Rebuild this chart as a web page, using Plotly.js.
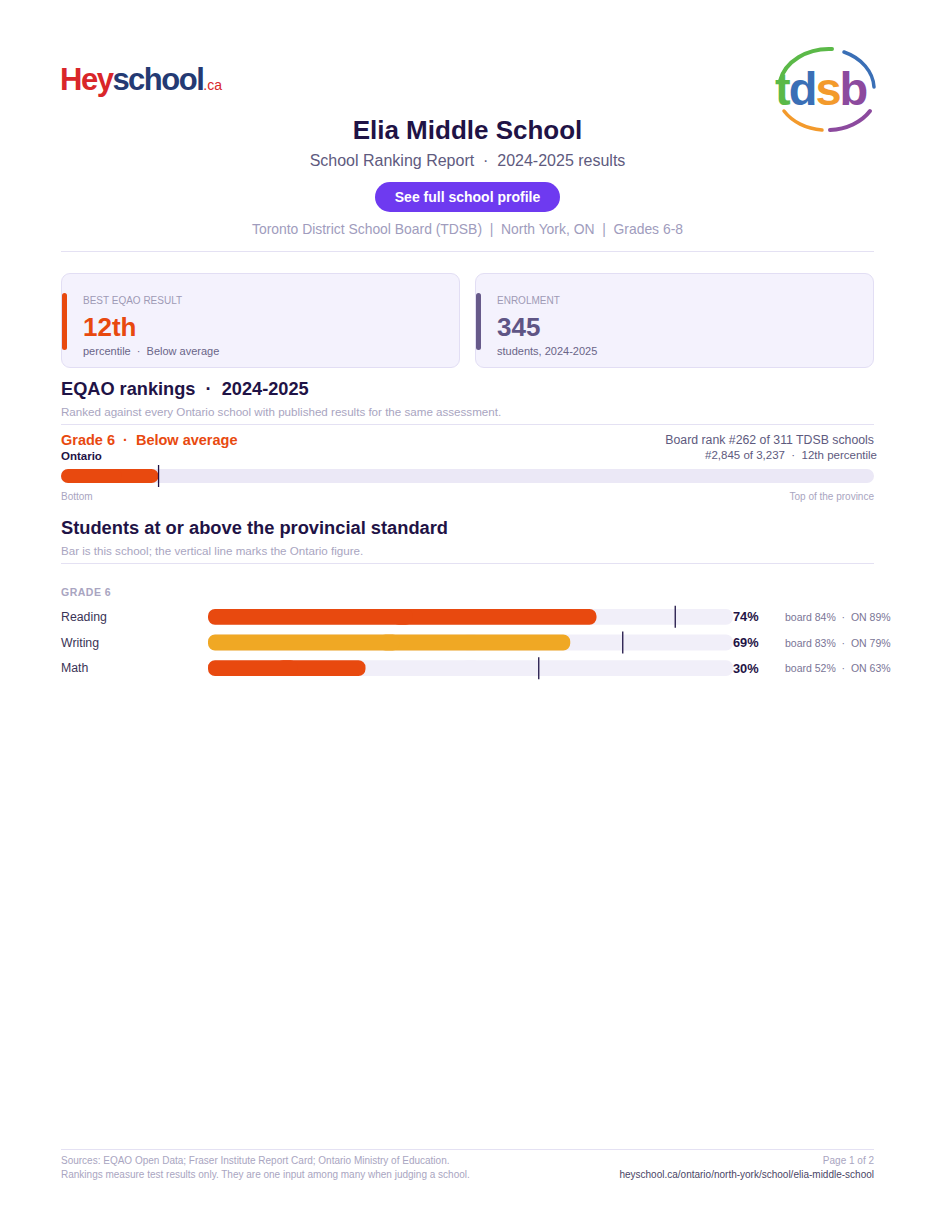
<!DOCTYPE html>
<html><head><meta charset="utf-8">
<script src="https://cdn.plot.ly/plotly-3.0.1.min.js"></script>
<style>
body{margin:0;width:935px;height:1210px;position:relative;background:#fff;font-family:"Liberation Sans",Arial,sans-serif;overflow:hidden}
.t{position:absolute;line-height:1;white-space:nowrap}
.rule{position:absolute;left:61px;width:813px;height:1px;background:#e4e1f3}
.card{position:absolute;top:273px;width:399px;height:95px;background:#f4f2fd;border:1px solid #e2def4;border-radius:9px;box-sizing:border-box}
.acc{position:absolute;left:0;top:19px;width:5px;height:57px;border-radius:3px}
</style></head><body>
<!-- HeySchool logo -->
<div class="t" style="left:60px;top:64px;font-size:31px;font-weight:bold;letter-spacing:-1.5px"><span style="color:#d9262a">Hey</span><span style="color:#243a73">school</span><span style="color:#d9262a;font-size:14px;font-weight:normal;letter-spacing:0">.ca</span></div>
<!-- TDSB logo -->
<svg style="position:absolute;left:770px;top:45px" width="110" height="90" viewBox="0 0 110 90">
<path d="M10 36 A50 40 0 0 1 62 4" stroke="#5bb948" stroke-width="4" fill="none" stroke-linecap="round"/>
<path d="M74 7 A50 40 0 0 1 104 42" stroke="#3a6fb6" stroke-width="3.5" fill="none" stroke-linecap="round"/>
<path d="M14 66 A50 40 0 0 0 52 85" stroke="#f39a2c" stroke-width="3.5" fill="none" stroke-linecap="round"/>
<path d="M60 85 A50 40 0 0 0 100 66" stroke="#8c4a9e" stroke-width="4" fill="none" stroke-linecap="round"/>
<text x="5" y="60" font-family="Liberation Sans,Arial" font-weight="bold" font-size="47" letter-spacing="-2"><tspan fill="#5bb948">t</tspan><tspan fill="#3a6fb6">d</tspan><tspan fill="#f39a2c">s</tspan><tspan fill="#8c4a9e">b</tspan></text>
</svg>

<div class="t" style="left:0;width:935px;text-align:center;top:117px;font-size:26px;font-weight:bold;color:#1f1346">Elia Middle School</div>
<div class="t" style="left:0;width:935px;text-align:center;top:153px;font-size:16px;color:#5e5a7e">School Ranking Report &nbsp;·&nbsp; 2024-2025 results</div>
<div style="position:absolute;left:375px;top:182px;width:185px;height:30px;border-radius:15px;background:#6e3af0;color:#fff;font-weight:bold;font-size:14px;line-height:30px;text-align:center">See full school profile</div>
<div class="t" style="left:0;width:935px;text-align:center;top:223px;font-size:13.9px;color:#a09cbd">Toronto District School Board (TDSB) &nbsp;| &nbsp;North York, ON &nbsp;| &nbsp;Grades 6-8</div>
<div class="rule" style="top:251px"></div>

<div class="card" style="left:61px"><div class="acc" style="background:#e8490f"></div>
<div class="t" style="left:21px;top:22px;font-size:10px;color:#9e9ab5">BEST EQAO RESULT</div>
<div class="t" style="left:21px;top:40px;font-size:26px;font-weight:bold;color:#e8490f">12th</div>
<div class="t" style="left:21px;top:72px;font-size:11px;color:#6a6588">percentile &nbsp;· &nbsp;Below average</div></div>
<div class="card" style="left:475px"><div class="acc" style="background:#675a8a"></div>
<div class="t" style="left:21px;top:22px;font-size:10px;color:#9e9ab5">ENROLMENT</div>
<div class="t" style="left:21px;top:40px;font-size:26px;font-weight:bold;color:#5f5585">345</div>
<div class="t" style="left:21px;top:72px;font-size:11px;color:#6a6588">students, 2024-2025</div></div>

<div class="t" style="left:61px;top:380px;font-size:18.2px;font-weight:bold;color:#1f1346">EQAO rankings &nbsp;· &nbsp;2024-2025</div>
<div class="t" style="left:61px;top:406px;font-size:11.6px;color:#a9a5c1">Ranked against every Ontario school with published results for the same assessment.</div>
<div class="rule" style="top:424px"></div>
<div class="t" style="left:61px;top:433px;font-size:14.5px;font-weight:bold;color:#e8490f">Grade 6 &nbsp;· &nbsp;Below average</div>
<div class="t" style="left:61px;top:451px;font-size:11.5px;font-weight:bold;color:#1f1346">Ontario</div>
<div class="t" style="right:61px;top:434px;font-size:12.3px;color:#5e5a7e">Board rank #262 of 311 TDSB schools</div>
<div class="t" style="right:58px;top:450px;font-size:11.5px;color:#5e5a7e">#2,845 of 3,237 &nbsp;· &nbsp;12th percentile</div>
<div id="rank" style="position:absolute;left:0;top:460px;width:935px;height:32px"></div>
<div class="t" style="left:61px;top:492px;font-size:10px;color:#a9a5c1">Bottom</div>
<div class="t" style="right:61px;top:492px;font-size:10px;color:#a9a5c1">Top of the province</div>

<div class="t" style="left:61px;top:519px;font-size:18.3px;font-weight:bold;color:#1f1346">Students at or above the provincial standard</div>
<div class="t" style="left:61px;top:545px;font-size:11.6px;color:#a9a5c1">Bar is this school; the vertical line marks the Ontario figure.</div>
<div class="rule" style="top:563px"></div>
<div class="t" style="left:61px;top:587px;font-size:10.5px;font-weight:bold;color:#a9a5c1;letter-spacing:0.5px">GRADE 6</div>
<div id="bars" style="position:absolute;left:0;top:600px;width:935px;height:86px"></div>

<div class="rule" style="top:1149px"></div>
<div class="t" style="left:61px;top:1156px;font-size:10px;color:#a9a5c1">Sources: EQAO Open Data; Fraser Institute Report Card; Ontario Ministry of Education.</div>
<div class="t" style="left:61px;top:1170px;font-size:10px;color:#a9a5c1">Rankings measure test results only. They are one input among many when judging a school.</div>
<div class="t" style="right:61px;top:1156px;font-size:10px;color:#a9a5c1">Page 1 of 2</div>
<div class="t" style="right:61px;top:1170px;font-size:10px;color:#4a4566">heyschool.ca/ontario/north-york/school/elia-middle-school</div>

<script>
// Data
const subjects = ["Reading", "Writing", "Math"];
const schoolPct = [74, 69, 30];
const boardPct = [84, 83, 52];
const ontarioPct = [89, 79, 63];
const barColors = ["#e8490f", "#f0a824", "#e8490f"];
const rankPercentile = 12;
const rankLabel = ["Ontario"];
const scaleMax = 100;

const font = {family: "Liberation Sans, Arial, sans-serif"};
const cfg = {staticPlot: true, displayModeBar: false};

// A bar with both ends rounded: two pieces overlapping slightly at the midpoint,
// one grown right to the value, one grown left to zero
function pill(y, vals, color, r, d) {
  return [
    {type: "bar", orientation: "h", y: y, base: vals.map(v => v / 2 - d), x: vals.map(v => v / 2 + d), marker: {color: color, cornerradius: r, line: {width: 0}}, hoverinfo: "skip"},
    {type: "bar", orientation: "h", y: y, base: vals.map(v => v / 2 + d), x: vals.map(v => -(v / 2 + d)), marker: {color: color, cornerradius: r, line: {width: 0}}, hoverinfo: "skip"}
  ];
}

// Ranking bar
Plotly.newPlot("rank", [
  ...pill(rankLabel, [scaleMax], "#ebe8f6", 7, 1.5),
  ...pill(rankLabel, [rankPercentile], "#e8490f", 7, 1.5)
], {
  width: 935, height: 32, margin: {l: 61, r: 61, t: 5, b: 5},
  paper_bgcolor: "rgba(0,0,0,0)", plot_bgcolor: "rgba(0,0,0,0)",
  barmode: "overlay", bargap: 0.36, showlegend: false, font: font,
  xaxis: {range: [0, scaleMax], visible: false, fixedrange: true},
  yaxis: {visible: false, fixedrange: true},
  shapes: [{type: "line", xref: "x", yref: "paper", x0: rankPercentile, x1: rankPercentile, y0: 0, y1: 1, line: {color: "#1f1346", width: 1.3}}]
}, cfg);

// Subject bars
const shapes = subjects.map((s, i) => ({
  type: "line", xref: "x", yref: "y", x0: ontarioPct[i], x1: ontarioPct[i], y0: i - 0.43, y1: i + 0.43,
  line: {color: "#1f1346", width: 1.3}
}));
const ann = [];
subjects.forEach((s, i) => {
  ann.push({xref: "paper", yref: "y", x: -0.284, y: s, xanchor: "left", text: s, showarrow: false, font: {size: 12.3, color: "#3a3456"}});
  ann.push({xref: "paper", yref: "y", x: 0.996, y: s, xanchor: "left", text: "<b>" + schoolPct[i] + "%</b>", showarrow: false, font: {size: 12.8, color: "#1f1346"}});
  ann.push({xref: "paper", yref: "y", x: 1.096, y: s, xanchor: "left", text: "board " + boardPct[i] + "% &nbsp;· &nbsp;ON " + ontarioPct[i] + "%", showarrow: false, font: {size: 10.5, color: "#7a7596"}});
});
const schoolTraces = subjects.map((s, i) => pill([s], [schoolPct[i]], barColors[i], 8, 2)).flat();
Plotly.newPlot("bars", [
  ...pill(subjects, subjects.map(() => scaleMax), "#f1eff9", 8, 2),
  ...schoolTraces
], {
  width: 935, height: 86, margin: {l: 208, r: 202, t: 4, b: 5},
  paper_bgcolor: "rgba(0,0,0,0)", plot_bgcolor: "rgba(0,0,0,0)",
  barmode: "overlay", bargap: 0.38, showlegend: false, font: font,
  xaxis: {range: [0, scaleMax], visible: false, fixedrange: true},
  yaxis: {visible: false, autorange: "reversed", fixedrange: true, categoryorder: "array", categoryarray: subjects},
  shapes: shapes, annotations: ann
}, cfg);
</script>
</body></html>
